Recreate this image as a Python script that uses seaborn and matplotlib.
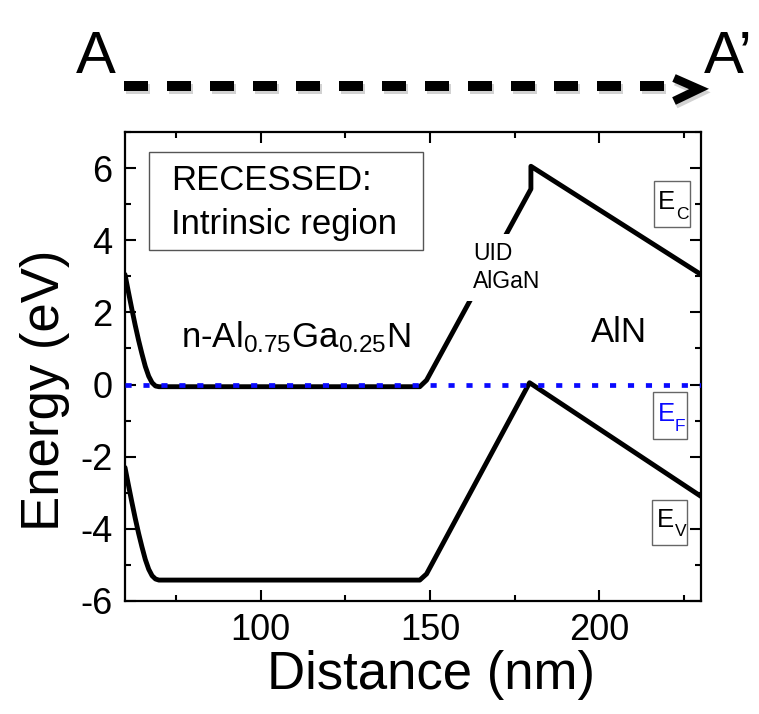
import matplotlib
matplotlib.use("Agg")
import matplotlib.pyplot as plt
import seaborn as sns
import pandas as pd
from matplotlib.lines import Line2D
from matplotlib.patches import Rectangle
from matplotlib.ticker import MultipleLocator, FuncFormatter
from matplotlib import font_manager
import matplotlib.patheffects as pe

# ---------------- data ----------------
x_ec = [60, 61, 62, 63, 64, 65, 66, 67, 68, 69, 70, 147, 149, 179.8, 179.8, 230]
ec = [3.05, 2.57, 2.10, 1.65, 1.23, 0.85, 0.50, 0.23, 0.05, -0.04, -0.06, -0.06, 0.12, 5.42, 6.05, 3.05]

x_ev = [60, 61, 62, 63, 64, 65, 66, 67, 68, 69, 70, 147, 149, 179.4, 230]
ev = [-2.30, -2.78, -3.25, -3.70, -4.12, -4.50, -4.85, -5.12, -5.30, -5.39, -5.42, -5.42, -5.25, 0.05, -3.10]

x_ef = [60, 230]
ef = [0.0, 0.0]

x_major = [100, 150, 200]
y_major = [-6, -4, -2, 0, 2, 4, 6]

# ---------------- style ----------------
sns.set_style("ticks")
plt.rcParams["font.family"] = ["Liberation Sans", "DejaVu Sans"]
plt.rcParams["mathtext.fontset"] = "custom"
plt.rcParams["mathtext.rm"] = "Liberation Sans"
plt.rcParams["mathtext.it"] = "Liberation Sans"
plt.rcParams["mathtext.default"] = "regular"
plt.rcParams["axes.unicode_minus"] = False
for k in ["text.color", "axes.labelcolor", "xtick.color", "ytick.color", "axes.edgecolor"]:
    plt.rcParams[k] = "black"

fig = plt.figure(figsize=(7.59, 7.14), dpi=100)
W, H = 759, 714
ax = fig.add_axes([125 / W, 1 - 601 / H, 576 / W, 469 / H])

df_c = pd.DataFrame({"Distance": x_ec, "Energy": ec})
df_v = pd.DataFrame({"Distance": x_ev, "Energy": ev})
df_f = pd.DataFrame({"Distance": x_ef, "Energy": ef})

sns.lineplot(data=df_c, x="Distance", y="Energy", sort=False, estimator=None,
             color="black", lw=3.5, ax=ax, zorder=3)
sns.lineplot(data=df_v, x="Distance", y="Energy", sort=False, estimator=None,
             color="black", lw=3.5, ax=ax, zorder=3)
sns.lineplot(data=df_f, x="Distance", y="Energy", sort=False, estimator=None,
             color="#0a0aff", lw=3.4, ax=ax, zorder=4, linestyle=(0, (1.3, 2.5)))

ax.set_xlim(60, 230)
ax.set_ylim(-6, 7)
ax.set_xticks(x_major)
ax.set_yticks(y_major)
ax.xaxis.set_minor_locator(MultipleLocator(25))
ax.yaxis.set_minor_locator(MultipleLocator(1))
ax.yaxis.set_major_formatter(FuncFormatter(lambda v, p: f"{int(round(v))}"))

ax.tick_params(which="major", direction="in", length=8, width=1.5,
               top=True, right=True, labelsize=26, pad=9, colors="black")
ax.tick_params(which="minor", direction="in", length=4, width=1.5,
               top=True, right=True)
for s in ax.spines.values():
    s.set_linewidth(1.6)
    s.set_color("black")

ax.set_xlabel("Distance (nm)", fontsize=38)
ax.set_ylabel("Energy (eV)", fontsize=38)
ax.xaxis.set_label_coords(0.531, -0.105)
ax.yaxis.set_label_coords(-0.095, 0.45)

# RECESSED box
ax.add_patch(Rectangle((24 / 576, 351 / 469), 274 / 576, 98 / 469,
                       transform=ax.transAxes, fill=False, ec="#555555", lw=1.0, zorder=5))
ax.text(73.5, 5.39, "RECESSED:", fontsize=25, va="baseline", ha="left", zorder=6)
ax.text(73.5, 4.17, "Intrinsic region", fontsize=25, va="baseline", ha="left", zorder=6)

# region labels
ax.text(76.5, 1.03, r"n-Al$_{0.75}$Ga$_{0.25}$N", fontsize=25, va="baseline", ha="left")
ax.text(197.6, 1.17, "AlN", fontsize=25, va="baseline", ha="left")
ax.text(162.7, 2.67, "UID\nAlGaN", fontsize=16.5, va="baseline", ha="left",
        linespacing=1.3, zorder=6,
        bbox=dict(boxstyle="square,pad=0.35", fc="white", ec="none"))

# band labels: boxes + letter + subscript
band_labels = [
    # (box x0, box x1, box y0, box y1, E x, E y, sub x, sub y, sub, colour)
    (216.2, 226.8, 4.36, 5.64, 217.4, 4.86, 222.6, 4.58, "C", "black"),
    (215.9, 225.9, -1.50, -0.22, 217.2, -1.02, 222.3, -1.30, "F", "#0a0aff"),
    (215.6, 225.9, -4.44, -3.19, 216.9, -3.95, 222.3, -4.21, "V", "black"),
]
for bx0, bx1, by0, by1, exx, eyy, sxx, syy, sub, col in band_labels:
    ax.add_patch(Rectangle((bx0, by0), bx1 - bx0, by1 - by0, fc="white",
                           ec="#666666", lw=1.0, zorder=6))
    ax.text(exx, eyy, "E", fontsize=18.5, color=col, ha="left", va="baseline", zorder=7)
    ax.text(sxx, syy, sub, fontsize=12.5, color=col, ha="left", va="baseline", zorder=7)

# A -> A' dashed arrow on top
avail = {f.name for f in font_manager.fontManager.ttflist}
if "Liberation Sans Narrow" in avail:
    top_fam, top_size, a2_x = "Liberation Sans Narrow", 48, 709
else:
    top_fam, top_size, a2_x = "Liberation Sans", 43, 704

shadow = [pe.SimpleLineShadow(offset=(1.2, -2.5), shadow_color="gray", alpha=0.35), pe.Normal()]
fig.add_artist(Line2D([124 / W, 664 / W], [1 - 86 / H, 1 - 86 / H], transform=fig.transFigure,
                      color="black", lw=7.2, linestyle=(0, (2.4, 1.9)),
                      solid_capstyle="butt", path_effects=shadow))
fig.add_artist(Line2D([674 / W, 699 / W, 674 / W], [1 - 78 / H, 1 - 89 / H, 1 - 101 / H],
                      transform=fig.transFigure, color="black", lw=6,
                      solid_joinstyle="miter", solid_capstyle="butt", path_effects=shadow))
fig.text(76 / W, 1 - 73 / H, "A", fontsize=top_size, ha="left", va="baseline", family=top_fam)
fig.text(a2_x / W, 1 - 73 / H, "A\u2019", fontsize=top_size, ha="left", va="baseline",
         family=top_fam)

fig.savefig("out.png", dpi=100)
